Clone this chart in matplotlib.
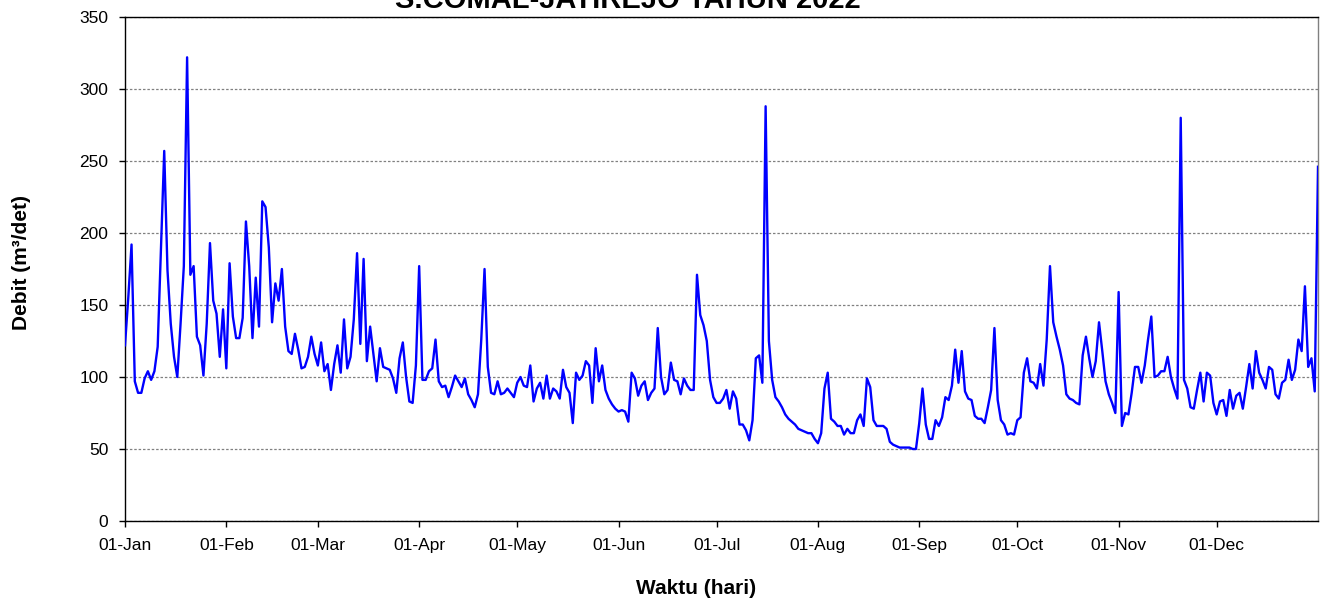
import matplotlib
matplotlib.use('Agg')
import matplotlib.pyplot as plt
import matplotlib.dates as mdates
import pandas as pd

plt.rcParams['font.family'] = ['Liberation Sans', 'DejaVu Sans']

# debit harian (m3/det)
debit = [
    122, 155, 192, 97, 89, 89, 99, 104, 98, 104, 121, 190, 257, 174, 137, 114,
    100, 137, 177, 322, 171, 177, 128, 122, 101, 137, 193, 153, 144, 114, 147,
    106, 179, 142, 127, 127, 141, 208, 177, 127, 169, 135, 222, 218, 190, 138,
    165, 153, 175, 135, 118, 116, 130, 119, 106, 107, 114, 128, 116, 108, 124,
    104, 109, 91, 109, 122, 103, 140, 106, 114, 140, 186, 123, 182, 111, 135,
    116, 97, 120, 107, 106, 105, 99, 89, 113, 124, 100, 83, 82, 108, 177,
    98, 98, 104, 106, 126, 97, 93, 94, 86, 93, 101, 97, 93, 99, 88,
    84, 79, 88, 126, 175, 107, 89, 88, 97, 88, 89, 92, 89, 86, 96,
    100, 94, 93, 108, 83, 92, 96, 85, 101, 85, 92, 90, 85, 105, 93,
    89, 68, 103, 98, 101, 111, 108, 82, 120, 97, 108, 91, 85, 81, 78,
    76, 77, 76, 69, 103, 99, 87, 94, 97, 84, 89, 92, 134, 100, 88,
    91, 110, 98, 97, 88, 99, 94, 91, 91, 171, 143, 136, 125, 98, 86,
    82, 82, 85, 91, 78, 90, 85, 67, 67, 63, 56, 70, 113, 115, 96,
    288, 125, 98, 86, 83, 79, 74, 71, 69, 67, 64, 63, 62, 61, 61,
    57, 54, 61, 92, 103, 71, 69, 66, 66, 60, 64, 61, 61, 70, 74,
    66, 99, 93, 70, 66, 66, 66, 64, 55, 53, 52, 51, 51, 51, 51,
    50, 50, 68, 92, 67, 57, 57, 70, 66, 72, 86, 84, 94, 119, 96,
    118, 90, 85, 84, 73, 71, 71, 68, 79, 91, 134, 84, 70, 67, 60,
    61, 60, 70, 72, 103, 113, 97, 96, 92, 109, 94, 126, 177, 138, 128,
    119, 108, 88, 85, 84, 82, 81, 115, 128, 113, 100, 111, 138, 118, 97,
    88, 82, 75, 159, 66, 75, 74, 89, 107, 107, 96, 108, 126, 142, 100,
    101, 104, 104, 114, 100, 92, 85, 280, 98, 92, 79, 78, 91, 103, 83,
    103, 101, 82, 74, 83, 84, 73, 91, 78, 87, 89, 78, 93, 109, 92,
    118, 103, 98, 92, 107, 105, 88, 85, 96, 98, 112, 98, 105, 126, 118,
    163, 107, 113, 90, 246,
]
tanggal = pd.date_range('2022-01-01', periods=len(debit), freq='D')
bulan = pd.date_range('2022-01-01', '2022-12-01', freq='MS')
y_ticks = [0, 50, 100, 150, 200, 250, 300, 350]
judul = 'S.COMAL-JATIREJO TAHUN 2022'

fig = plt.figure(figsize=(13.25, 6.04), dpi=100)
ax = fig.add_axes([125 / 1325, 83 / 604, (1318 - 125) / 1325, 504 / 604])

ax.plot(tanggal, debit, color='#0000FF', lw=1.7, zorder=3)

ax.set_xlim(tanggal[0], tanggal[-1])
ax.set_ylim(0, 350)
ax.set_yticks(y_ticks)
ax.set_xticks(bulan)
ax.xaxis.set_major_formatter(mdates.DateFormatter('%d-%b'))

ax.yaxis.grid(True, color='#808080', linestyle=(0, (2, 1.5)), lw=0.9)
ax.set_axisbelow(True)

for s in ['left', 'bottom', 'top']:
    ax.spines[s].set_color('black')
    ax.spines[s].set_linewidth(1)
ax.spines['right'].set_color('#808080')
ax.spines['right'].set_linewidth(1)

ax.tick_params(direction='out', length=4, width=1, labelsize=12.5, pad=8)

fig.text(22 / 1325, 1 - 262 / 604, 'Debit (m³/det)', rotation=90,
         ha='center', va='center', fontsize=15, fontweight='bold')
fig.text(696 / 1325, 1 - 588 / 604, 'Waktu (hari)',
         ha='center', va='center', fontsize=15, fontweight='bold')
# judul terpotong di tepi atas, seperti pada gambar asli
fig.text(628 / 1325, 1 - 8 / 604, judul,
         ha='center', va='baseline', fontsize=21, fontweight='bold')

fig.savefig('out.png', dpi=100)
